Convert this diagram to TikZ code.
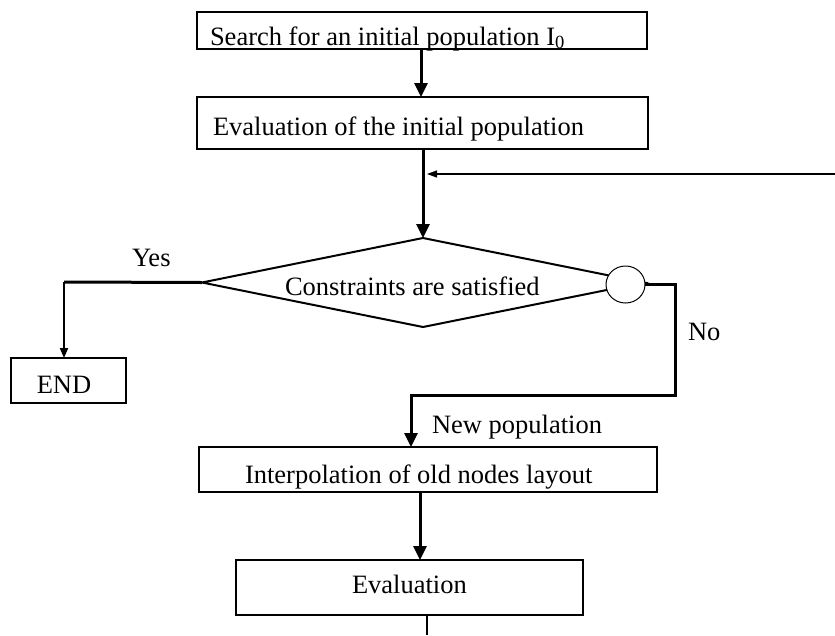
\documentclass[tikz,border=0pt]{standalone}
\usepackage{fontspec}
\setmainfont{Liberation Serif}
\usetikzlibrary{arrows.meta,shapes.geometric}
\begin{document}
\begin{tikzpicture}[x=1pt,y=-1pt,
  every node/.style={font=\fontsize{26.5}{30}\selectfont, inner sep=0pt, outer sep=0pt},
  box/.style={draw, line width=2pt, rectangle, inner sep=0pt},
  lbl/.style={anchor=base west},
  bigarrow/.style={line width=3pt, -{Triangle[length=14pt,width=13pt]}},
  smallarrow/.style={line width=2pt, -{Triangle[length=10pt,width=8pt]}},
  thinarrow/.style={line width=1.2pt, -{Triangle[length=10pt,width=7pt]}},
  thickline/.style={line width=3pt},
]
\useasboundingbox (0,0) rectangle (835,635);

% boxes
\node[box, minimum width=450pt, minimum height=37pt] (b1) at (422,30.5) {};
\node[box, minimum width=451pt, minimum height=52pt] (b2) at (422.5,123) {};
\node[draw, line width=2pt, diamond, minimum width=442pt, minimum height=89pt] (dia) at (423,282.5) {};
\node[draw, line width=1pt, ellipse, fill=white, minimum width=39pt, minimum height=37pt] (circ) at (625.5,284.5) {};
\node[box, minimum width=115pt, minimum height=45pt] (endb) at (68.5,380.5) {};
\node[box, minimum width=458pt, minimum height=45pt] (ib) at (428,469.5) {};
\node[box, minimum width=347pt, minimum height=55pt] (eb) at (409.5,587.5) {};

% texts
\node[lbl] (t1) at (210,45) {Search for an initial population I\textsubscript{0}};
\node[lbl] (t2) at (213,135) {Evaluation of the initial population};
\node[lbl] (t3) at (285,295) {Constraints are satisfied};
\node[lbl] (tyes) at (132,266) {Yes};
\node[anchor=base] (tend) at (64,393) {END};
\node[lbl] (tno) at (688,340) {No};
\node[lbl] (tnew) at (432,433) {New population};
\node[lbl] (t4) at (245,483) {Interpolation of old nodes layout};
\node[lbl] (t5) at (352,593) {Evaluation};

% coordinates
\coordinate (rin) at (835,174);
\coordinate (ycorner) at (64,282);
\coordinate (nr) at (675,395);
\coordinate (bot) at (427,635);

% connectors
\draw[bigarrow] ([xshift=-1pt]b1.south) -- ([xshift=-1.5pt]b2.north);
\draw[bigarrow] (dia.north |- b2.south) -- (dia.north);
\draw[thinarrow] (rin) -- ([xshift=4pt]rin -| dia.north);
\draw[thickline] (dia.west) -- (ycorner);
\draw[smallarrow] (ycorner) -- (ycorner |- endb.north);
\draw[bigarrow] (circ.east) -| (nr) -| ([xshift=-17pt]ib.north);
\draw[bigarrow] ([xshift=-8pt]ib.south) -- ([xshift=10.5pt]eb.north);
\draw[line width=2pt] (eb.south -| bot) -- (bot);
\end{tikzpicture}
\end{document}
